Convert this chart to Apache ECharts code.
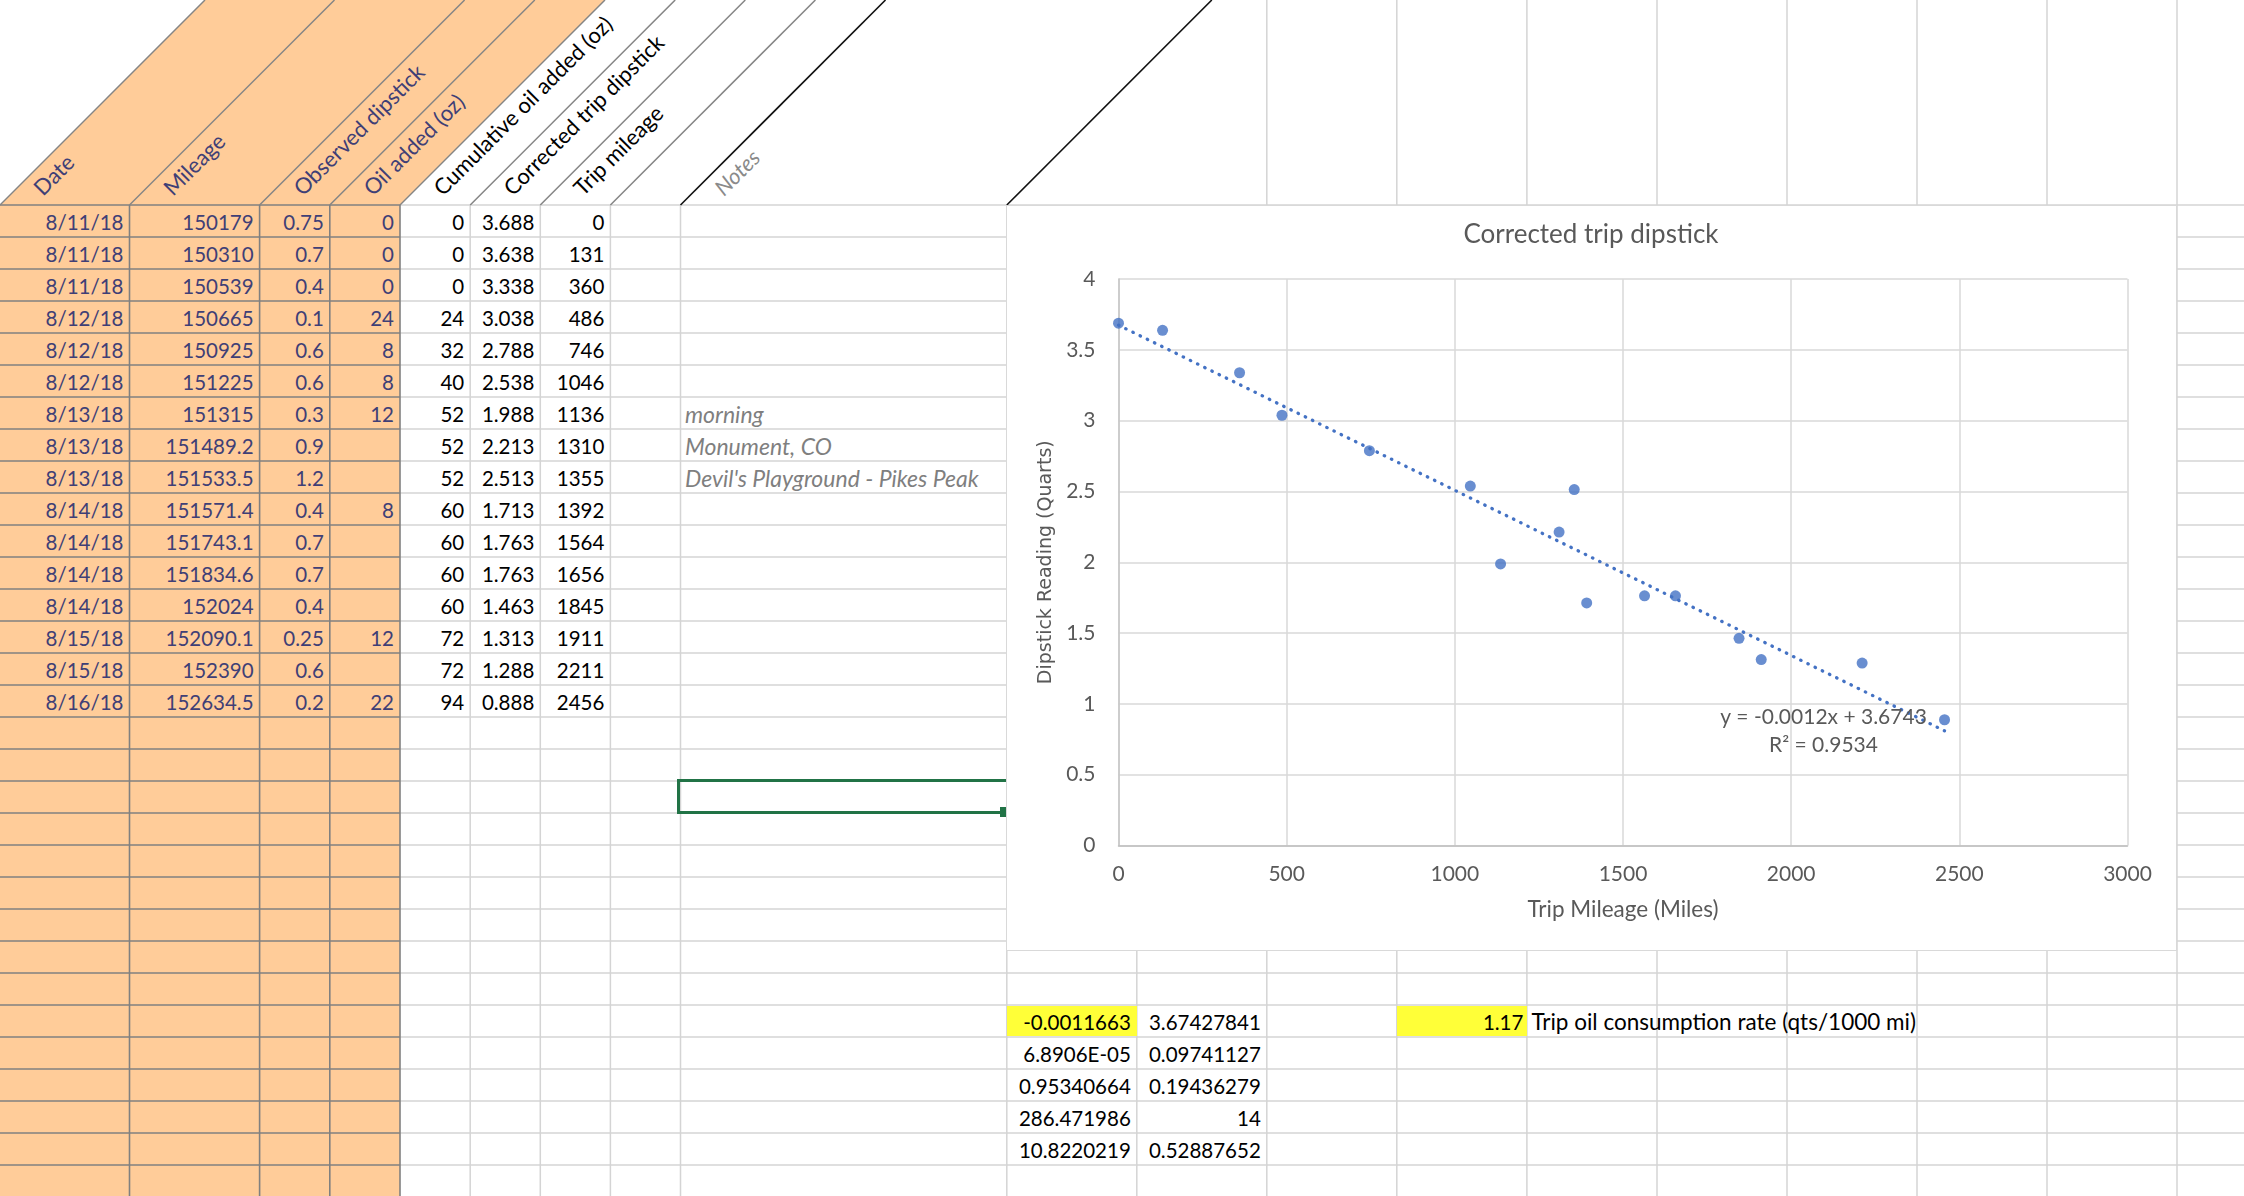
<!DOCTYPE html>
<html><head><meta charset="utf-8">
<script src="https://cdn.jsdelivr.net/npm/echarts/dist/echarts.min.js"></script>
<style>
html,body{margin:0;padding:0;background:#fff;}
#page{position:relative;width:2244px;height:1196px;overflow:hidden;font-family:Lato,'Noto Sans',sans-serif;background:#fff;}
#grid{position:absolute;left:0;top:0;z-index:1;}
.t{position:absolute;white-space:nowrap;font-size:20.5px;line-height:32px;height:32px;z-index:2;box-sizing:border-box;}
.h{position:absolute;white-space:nowrap;font-size:22px;line-height:24px;transform-origin:0 20px;transform:rotate(-45deg);z-index:2;}
.fill{position:absolute;z-index:1;}
#sel{position:absolute;left:677px;top:779px;width:332px;height:35px;border:3px solid #217346;box-sizing:border-box;z-index:3;}
#handle{position:absolute;left:1000px;top:807px;width:6px;height:10px;background:#217346;z-index:3;}
#chartWrap{position:absolute;left:1006px;top:204.5px;width:1171px;height:746px;border:1.5px solid #d9d9d9;box-sizing:border-box;background:#fff;z-index:5;}
#chart{position:absolute;left:0;top:0;width:1168px;height:743px;}
</style></head>
<body><div id="page"><div id="chartWrap"><div id="chart"></div></div></div>
<script>
// ---------- data ----------
const headers = ['Date','Mileage','Observed dipstick','Oil added (oz)','Cumulative oil added (oz)','Corrected trip dipstick','Trip mileage','','Notes'];
const dates = ['8/11/18','8/11/18','8/11/18','8/12/18','8/12/18','8/12/18','8/13/18','8/13/18','8/13/18','8/14/18','8/14/18','8/14/18','8/14/18','8/15/18','8/15/18','8/16/18'];
const mileage = ['150179','150310','150539','150665','150925','151225','151315','151489.2','151533.5','151571.4','151743.1','151834.6','152024','152090.1','152390','152634.5'];
const observed = [0.75,0.7,0.4,0.1,0.6,0.6,0.3,0.9,1.2,0.4,0.7,0.7,0.4,0.25,0.6,0.2];
const oilAdded = [0,0,0,24,8,8,12,null,null,8,null,null,null,12,null,22];
const cumulative = [0,0,0,24,32,40,52,52,52,60,60,60,60,72,72,94];
const corrected = [3.688,3.638,3.338,3.038,2.788,2.538,1.988,2.213,2.513,1.713,1.763,1.763,1.463,1.313,1.288,0.888];
const tripMileage = [0,131,360,486,746,1046,1136,1310,1355,1392,1564,1656,1845,1911,2211,2456];
const notes = ['','','','','','','morning','Monument, CO',"Devil's Playground - Pikes Peak",'','','','','','',''];
const linestCol1 = ['-0.0011663','6.8906E-05','0.95340664','286.471986','10.8220219'];
const linestCol2 = ['3.67427841','0.09741127','0.19436279','14','0.52887652'];
const rateValue = '1.17';
const rateLabel = 'Trip oil consumption rate (qts/1000 mi)';
const chartTitle = 'Corrected trip dipstick';
const xAxisTitle = 'Trip Mileage (Miles)';
const yAxisTitle = 'Dipstick Reading (Quarts)';
const trendX = [0, 2456];
const trendY = [3.6743, 0.8099];
const trendLabel = ['y = -0.0012x + 3.6743', 'R\u00B2 = 0.9534'];

// ---------- sheet layout ----------
const W = 2244, H = 1196;
const colX = [0,129.5,259.6,329.8,400,470.2,540.3,610.4,680.5,1006.8,1136.8,1266.8,1396.8,1526.9,1657,1787,1917,2047,2177,2307];
const HDR = 205, RH = 32, NR = 31;
const page = document.getElementById('page');

let s = `<svg id="grid" width="${W}" height="${H}" xmlns="http://www.w3.org/2000/svg">`;
s += `<rect x="0" y="${HDR}" width="400" height="${H-HDR}" fill="#FFCC99"/>`;
s += `<polygon points="0,${HDR} ${HDR},0 ${400+HDR},0 400,${HDR}" fill="#FFCC99"/>`;
for (let k = 0; k <= NR; k++) {
  const y = HDR + RH*k;
  s += `<line x1="400" y1="${y}" x2="${W}" y2="${y}" stroke="#d4d4d4" stroke-width="1.5"/>`;
}
for (let c = 5; c < colX.length; c++) {
  const x = colX[c];
  s += `<line x1="${x}" y1="${HDR}" x2="${x}" y2="${H}" stroke="#d4d4d4" stroke-width="1.5"/>`;
  if (x >= 1260) s += `<line x1="${x}" y1="0" x2="${x}" y2="${HDR}" stroke="#d4d4d4" stroke-width="1.5"/>`;
}
for (let k = 0; k <= NR; k++) {
  const y = HDR + RH*k;
  s += `<line x1="0" y1="${y}" x2="400" y2="${y}" stroke="#808080" stroke-width="1.6"/>`;
}
[129.5,259.6,329.8,400].forEach(x => {
  s += `<line x1="${x}" y1="${HDR}" x2="${x}" y2="${H}" stroke="#808080" stroke-width="1.6"/>`;
});
for (let c = 0; c <= 9; c++) {
  const x0 = colX[c];
  const dark = (c >= 8);
  s += `<line x1="${x0}" y1="${HDR}" x2="${x0+HDR}" y2="0" stroke="${dark?'#111':'#858585'}" stroke-width="${dark?1.6:1.5}"/>`;
}
s += `</svg>`;
page.insertAdjacentHTML('beforeend', s);

function addText(txt, left, top, width, align, color, extra) {
  const d = document.createElement('div');
  d.className = 't';
  d.textContent = txt;
  d.style.left = left + 'px';
  d.style.top = (top + 1) + 'px';
  d.style.width = width + 'px';
  d.style.textAlign = align;
  d.style.color = color;
  if (align === 'right') d.style.paddingRight = '6px';
  if (align === 'left') d.style.paddingLeft = '4.5px';
  if (extra) Object.assign(d.style, extra);
  page.appendChild(d);
}
function addFill(left, top, width, height, color) {
  const d = document.createElement('div');
  d.className = 'fill';
  Object.assign(d.style, {left: left+'px', top: top+'px', width: width+'px', height: height+'px', background: color});
  page.appendChild(d);
}

headers.forEach((h, c) => {
  if (!h) return;
  const d = document.createElement('div');
  d.className = 'h';
  d.textContent = h;
  d.style.left = (colX[c] + 43) + 'px';
  d.style.top = (197 - 20) + 'px';
  d.style.color = c < 4 ? '#3F3F76' : (c === 8 ? '#8a8a8a' : '#000');
  if (c === 8) d.style.fontStyle = 'italic';
  page.appendChild(d);
});

const inputColor = '#3F3F76';
for (let i = 0; i < dates.length; i++) {
  const top = HDR + RH*i;
  const cols = [dates[i], mileage[i], String(observed[i]), oilAdded[i] === null ? '' : String(oilAdded[i]),
                String(cumulative[i]), corrected[i].toFixed(3), String(tripMileage[i])];
  cols.forEach((v, c) => {
    if (v === '') return;
    addText(v, colX[c], top, colX[c+1]-colX[c], 'right', c < 4 ? inputColor : '#000');
  });
  if (notes[i]) addText(notes[i], colX[8], top, colX[9]-colX[8], 'left', '#7F7F7F', {fontStyle:'italic', fontSize:'23px'});
}

const r0 = 25;
addFill(colX[9], HDR + RH*r0 + 0.8, colX[10]-colX[9], RH-1.6, '#FFFF38');
addFill(colX[12], HDR + RH*r0 + 0.8, colX[13]-colX[12], RH-1.6, '#FFFF38');
for (let i = 0; i < linestCol1.length; i++) {
  const top = HDR + RH*(r0+i);
  addText(linestCol1[i], colX[9], top, colX[10]-colX[9], 'right', '#000');
  addText(linestCol2[i], colX[10], top, colX[11]-colX[10], 'right', '#000');
}
addText(rateValue, colX[12], HDR + RH*r0, colX[13]-colX[12], 'right', '#000', {paddingRight:'3.5px'});
addText(rateLabel, colX[13], HDR + RH*r0, 480, 'left', '#000', {fontSize:'22.5px'});

page.insertAdjacentHTML('beforeend', '<div id="sel"></div><div id="handle"></div>');

// ---------- chart ----------
const chart = echarts.init(document.getElementById('chart'), null, {renderer: 'canvas'});
const grey = '#595959';
chart.setOption({
  animation: false,
  backgroundColor: '#fff',
  textStyle: {fontFamily: 'Lato'},
  title: {
    text: chartTitle, left: 'center', top: 11,
    textStyle: {fontFamily: 'Lato', fontSize: 26, fontWeight: 'normal', color: grey}
  },
  grid: {left: 111.5, right: 47.5, top: 73, bottom: 103.5, containLabel: false},
  xAxis: {
    type: 'value', min: 0, max: 3000, interval: 500,
    name: xAxisTitle, nameLocation: 'middle', nameGap: 53,
    nameTextStyle: {fontFamily: 'Lato', fontSize: 22.5, color: grey},
    axisLine: {show: true, lineStyle: {color: '#bfbfbf', width: 1.5}},
    axisTick: {show: false},
    axisLabel: {margin: 18, fontFamily: 'Lato', fontSize: 21, color: grey, formatter: v => String(v)},
    splitLine: {show: true, lineStyle: {color: '#d9d9d9', width: 1.5}}
  },
  yAxis: {
    type: 'value', min: 0, max: 4, interval: 0.5,
    name: yAxisTitle, nameLocation: 'middle', nameGap: 63, nameRotate: 90,
    nameTextStyle: {fontFamily: 'DejaVu Sans', fontSize: 19, color: grey},
    axisLine: {show: true, lineStyle: {color: '#c6c6c6', width: 1.5}},
    axisTick: {show: false},
    axisLabel: {margin: 23, fontFamily: 'Lato', fontSize: 21, color: grey, formatter: v => String(v)},
    splitLine: {show: true, lineStyle: {color: '#d9d9d9', width: 1.5}}
  },
  series: [
    {
      type: 'line', name: 'trend', z: 2, silent: true,
      data: trendX.map((x, i) => [x, trendY[i]]),
      symbol: 'none',
      lineStyle: {color: '#4472C4', width: 3.3, type: [0.5, 7.5], cap: 'round'}
    },
    {
      type: 'scatter', name: 'Corrected trip dipstick', z: 3,
      data: tripMileage.map((x, i) => [x, corrected[i]]),
      symbol: 'circle', symbolSize: 11,
      itemStyle: {color: '#4472C4'}
    }
  ],
  graphic: trendLabel.map((t, i) => ({
    type: 'text', x: 816.5, y: 511 + 28.5*i, z: 10,
    style: {text: t, fill: grey, font: '21px Lato', textAlign: 'center', textVerticalAlign: 'middle'}
  }))
});
</script>
</body></html>
